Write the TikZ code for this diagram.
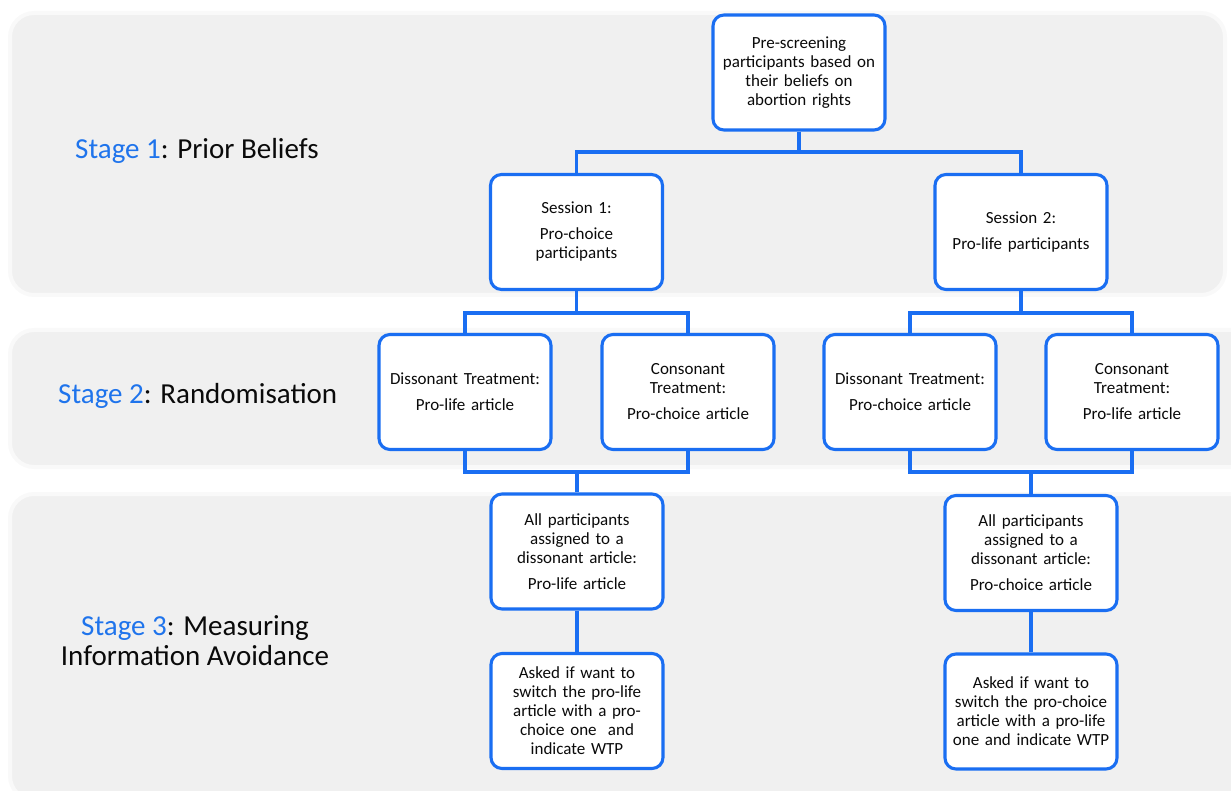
\documentclass[tikz,border=0pt]{standalone}
\usepackage{fontspec}
\setmainfont{Carlito}
\definecolor{boxblue}{HTML}{1A6EF2}
\definecolor{stageblue}{HTML}{1F74EC}
\definecolor{panelgray}{HTML}{F0F0F0}
\definecolor{paneledge}{HTML}{F9F9F9}
\definecolor{txt}{HTML}{0A0A0A}
\tikzset{
  panel/.style={fill=panelgray, draw=paneledge, line width=4pt, rounded corners=24pt},
  stepbox/.style={draw=boxblue, line width=3.1pt, rounded corners=11pt, fill=white,
    minimum width=172pt, minimum height=115pt, inner sep=0pt, align=center,
    text width=168pt, text=txt, font=\fontsize{17}{19}\selectfont},
  conn/.style={draw=boxblue, line width=3.3pt},
  stagelabel/.style={text=txt, inner sep=0pt, font=\fontsize{29}{30}\selectfont}
}
\begin{document}
\begin{tikzpicture}[x=1pt,y=-1pt]
\useasboundingbox (0,0) rectangle (1231,791);
\clip (0,0) rectangle (1231,791);
% panels
\path[panel] (10,13) rectangle (1225,295);
\path[panel] (10,330) rectangle (1260,467);
\path[panel] (10,494) rectangle (1260,800);
% stage labels
\node[stagelabel, anchor=west] (st1) at (75,151) {\textcolor{stageblue}{Stage 1}: Prior Beliefs};
\node[stagelabel, anchor=west] (st2) at (58,396) {\textcolor{stageblue}{Stage 2}: Randomisation};
\node[stagelabel, align=center] (st3) at (195,641) {\textcolor{stageblue}{Stage 3}: Measuring\\Information Avoidance};
% boxes
\node[stepbox] (top) at (799,72.5) {Pre-screening\\participants based on\\their beliefs on\\abortion rights};
\node[stepbox] (s1) at (576.5,232) {Session 1:\\[7pt]Pro-choice\\participants};
\node[stepbox] (s2) at (1021,232) {Session 2:\\[7pt]Pro-life participants};
\node[stepbox] (a) at (465,392) {Dissonant Treatment:\\[7pt]Pro-life article\\[12pt]};
\node[stepbox] (b) at (688,392) {Consonant\\Treatment:\\[7pt]Pro-choice article};
\node[stepbox] (c) at (910,392) {Dissonant Treatment:\\[7pt]Pro-choice article\\[12pt]};
\node[stepbox] (d) at (1132,392) {Consonant\\Treatment:\\[7pt]Pro-life article};
\node[stepbox] (e) at (577,551.5) {All participants\\assigned to a\\dissonant article:\\[7pt]Pro-life article};
\node[stepbox] (g) at (577,711) {Asked if want to\\switch the pro-life\\article with a pro-\\choice one~ and\\indicate WTP};
\node[stepbox] (f) at (1031,553) {All participants\\assigned to a\\dissonant article:\\[7pt]Pro-choice article};
\node[stepbox] (h) at (1031,711.5) {Asked if want to\\switch the pro-choice\\article with a pro-life\\one and indicate WTP\\[8pt]};
% junctions
\coordinate (j1) at (799,152);
\coordinate (j2) at (576.5,313);
\coordinate (j2r) at (1021,313);
\coordinate (j3) at (577,472);
\coordinate (j4) at (1031,472);
% connectors
\draw[conn] (top.south) -- (j1);
\draw[conn] (s1.north) |- (j1) -| (s2.north);
\draw[conn] (s1.south) -- (j2);
\draw[conn] (a.north) |- (j2) -| (b.north);
\draw[conn] (s2.south) -- (j2r);
\draw[conn] (c.north) |- (j2r) -| (d.north);
\draw[conn] (a.south) |- (j3) -| (b.south);
\draw[conn] (j3) -- (e.north);
\draw[conn] (c.south) |- (j4) -| (d.south);
\draw[conn] (j4) -- (f.north);
\draw[conn] (e.south) -- (g.north);
\draw[conn] (f.south) -- (h.north);
\end{tikzpicture}
\end{document}
